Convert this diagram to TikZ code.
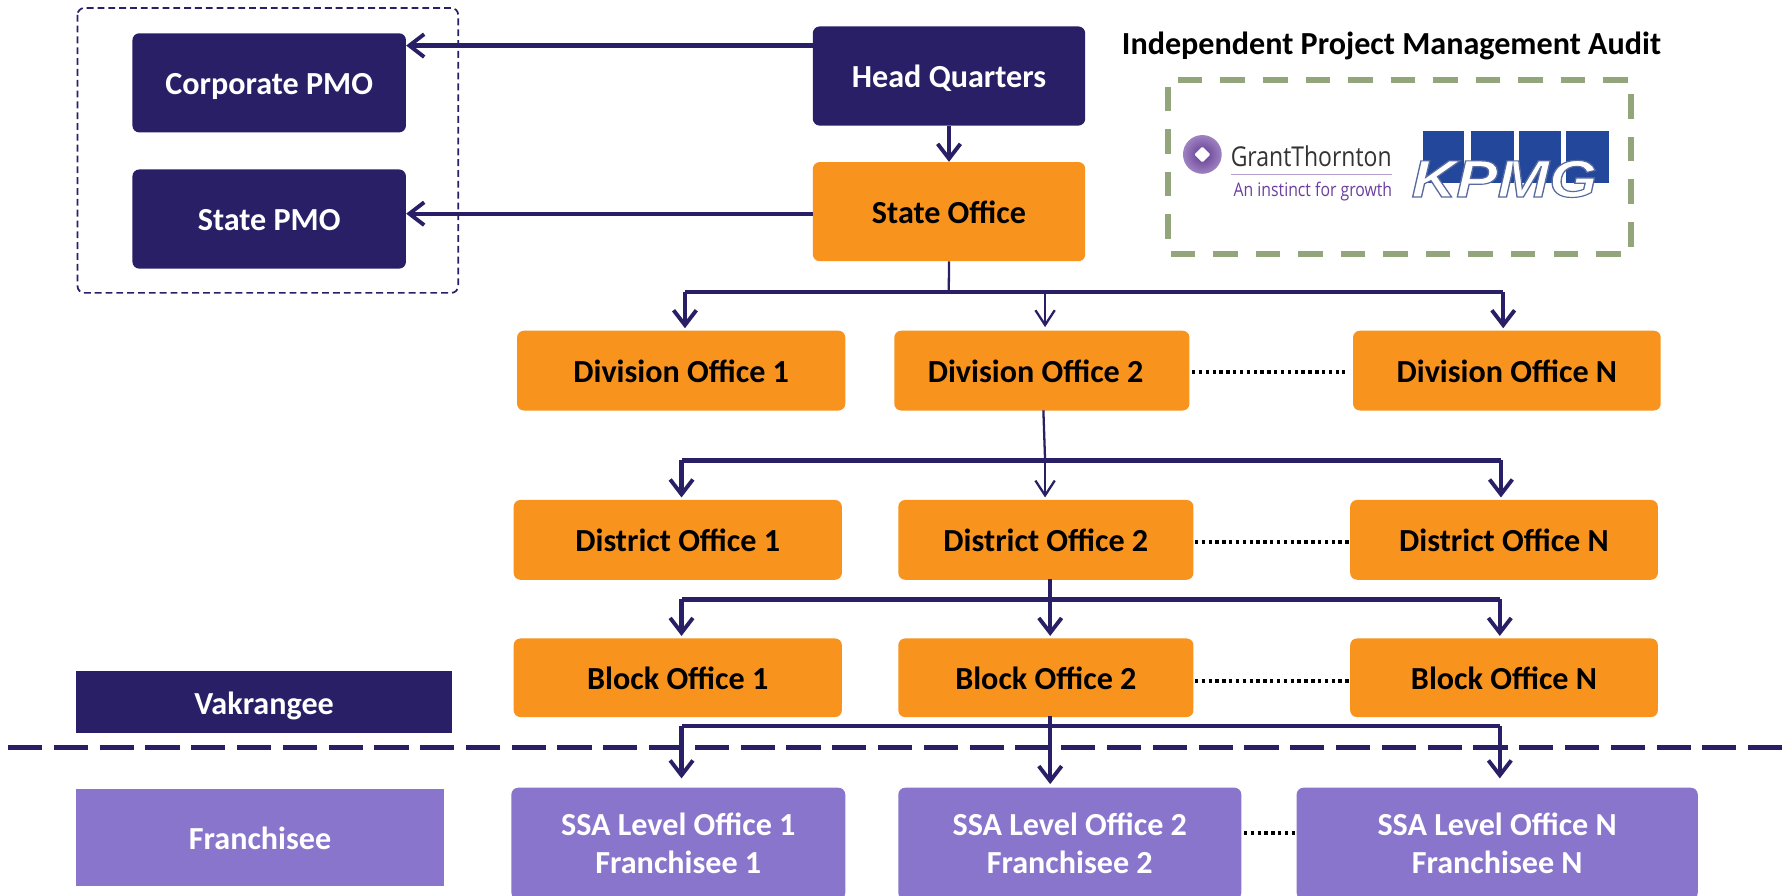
\documentclass[tikz,border=0pt]{standalone}
\usepackage{fontspec}
\setmainfont{Carlito}
\newfontfamily\gtfont{Open Sans}
\newfontfamily\kpfont{Liberation Sans}
\usetikzlibrary{arrows.meta,calc}
\definecolor{navy}{HTML}{291F66}
\definecolor{orangebox}{HTML}{F8931E}
\definecolor{lilac}{HTML}{8976CC}
\definecolor{sage}{HTML}{92A57B}
\definecolor{kpmgblue}{HTML}{22479B}
\definecolor{gtpurple}{HTML}{6B3FA0}
\tikzset{
  x=1pt,y=-1pt,
  basebox/.style={anchor=north west,inner sep=0pt,rounded corners=6pt,align=center,
    font=\fontsize{28.2}{33.5}\selectfont\bfseries,text height=22pt,text depth=2pt},
  navybox/.style={basebox,fill=navy,text=white},
  orbox/.style={basebox,fill=orangebox,text=black},
  lilacbox/.style={basebox,fill=lilac,text=white},
  legendnavy/.style={navybox,rounded corners=0pt,text height=24pt},
  legendlilac/.style={lilacbox,rounded corners=0pt,text height=24pt},
  thickline/.style={draw=navy,line width=3.8pt},
  thinline/.style={draw=navy,line width=2pt},
  arrowthick/.style={thickline,-{Straight Barb[length=13pt,width=20pt,line width=3.4pt]},shorten >=0pt},
  arrowthin/.style={thinline,-{Straight Barb[length=13pt,width=17pt,line width=2pt]},shorten >=1pt},
  dots/.style={draw=black,line width=3.5pt,dash pattern=on 3pt off 3pt},
}
\begin{document}
\begin{tikzpicture}
\useasboundingbox (0,0) rectangle (1568,786);
\fill[white] (0,0) rectangle (1568,786);
\begin{scope}
\clip (0,0) rectangle (1568,786);

% dashed group
\draw[navy,line width=1.5pt,dash pattern=on 6pt off 3.5pt,rounded corners=6pt] (68,7) rectangle (402,257);

% boxes
\node[navybox,minimum width=240pt,minimum height=87pt] (corp) at (116,29) {Corporate PMO};
\node[navybox,minimum width=240pt,minimum height=87pt] (spmo) at (116,148.5) {State PMO};
\node[navybox,minimum width=239pt,minimum height=87pt] (hq) at (713,23) {Head Quarters};
\node[orbox,minimum width=239pt,minimum height=87pt] (state) at (713,142) {State Office};

\node[orbox,minimum width=288pt,minimum height=70pt] (div1) at (453.5,290) {Division Office 1};
\node[orbox,minimum width=259pt,minimum height=70pt] (div2) at (784.5,290) {\hspace*{-11pt}Division Office 2};
\node[orbox,minimum width=270pt,minimum height=70pt] (divn) at (1187,290) {Division Office N};

\node[orbox,minimum width=288pt,minimum height=70pt] (dis1) at (450.5,438.5) {District Office 1};
\node[orbox,minimum width=259pt,minimum height=70pt] (dis2) at (788,438.5) {District Office 2};
\node[orbox,minimum width=270pt,minimum height=70pt] (disn) at (1184.5,438.5) {District Office N};

\node[orbox,minimum width=288pt,minimum height=69pt] (blk1) at (450.5,560) {Block Office 1};
\node[orbox,minimum width=259pt,minimum height=69pt] (blk2) at (788,560) {Block Office 2};
\node[orbox,minimum width=270pt,minimum height=69pt] (blkn) at (1184.5,560) {Block Office N};

\node[legendnavy,minimum width=330pt,minimum height=54pt] (vak) at (66.5,589) {Vakrangee};
\node[legendlilac,minimum width=323pt,minimum height=85pt] (fra) at (66.5,692) {Franchisee};

\node[lilacbox,minimum width=293pt,minimum height=98pt,text height=,text depth=] (ssa1) at (448.5,691) {SSA Level Office 1\\Franchisee 1};
\node[lilacbox,minimum width=301pt,minimum height=98pt,text height=,text depth=] (ssa2) at (788,691) {SSA Level Office 2\\Franchisee 2};
\node[lilacbox,minimum width=352pt,minimum height=98pt,text height=,text depth=] (ssan) at (1137.5,691) {SSA Level Office N\\Franchisee N};

% separator
\coordinate (sepL) at (7,656);
\coordinate (sepR) at (1564,656);
\draw[navy,line width=3.8pt,dash pattern=on 30pt off 10.18pt] (sepL) -- (sepR);

% PMO arrows
\coordinate (hqw) at (713,40);
\coordinate (stw) at (713,187.5);
\draw[arrowthick] (hqw) -- (hqw -| corp.east);
\draw[arrowthick] (stw) -- (stw -| spmo.east);
\draw[arrowthick] (hq.south) -- (state.north);

% state -> divisions
\coordinate (b1) at (832.5,256);
\coordinate (b1l) at (601,256);
\coordinate (b1m) at (917,256);
\coordinate (b1r) at (1319,256);
\draw[thinline] (state.south) -- (b1);
\draw[thickline] (b1l) -- (b1r);
\draw[arrowthick,shorten >=2pt] (b1l) -- (b1l |- div1.north);
\draw[arrowthin,shorten >=3pt] (b1m) -- (b1m |- div2.north);
\draw[arrowthick,shorten >=2pt] (b1r) -- (b1r |- divn.north);

% division -> districts
\coordinate (d2s) at (915.5,360);
\coordinate (b2l) at (598,404);
\coordinate (b2m) at (917,404);
\coordinate (b2r) at (1317,404);
\draw[thickline] (b2l) -- (b2r);
\draw[thinline] (d2s) -- (b2m);
\draw[arrowthick,shorten >=2pt] (b2l) -- (b2l |- dis1.north);
\draw[arrowthin,shorten >=2pt] (b2m) -- (b2m |- dis2.north);
\draw[arrowthick,shorten >=2pt] (b2r) -- (b2r |- disn.north);

% district -> blocks
\coordinate (d3s) at (921.5,508);
\coordinate (b3l) at (598,526);
\coordinate (b3r) at (1316,526);
\draw[thickline] (b3l) -- (b3r);
\draw[arrowthick,shorten >=2pt] (b3l) -- (b3l |- blk1.north);
\draw[arrowthick,shorten >=2pt] (d3s) -- (d3s |- blk2.north);
\draw[arrowthick,shorten >=2pt] (b3r) -- (b3r |- blkn.north);

% block -> SSA
\coordinate (d4s) at (921.5,628);
\coordinate (b4l) at (598,637);
\coordinate (b4r) at (1316,637);
\draw[thickline] (b4l) -- (b4r);
\draw[arrowthick,shorten >=8pt] (b4l) -- (b4l |- ssa1.north);
\draw[arrowthick,shorten >=3pt] (d4s) -- (d4s |- ssa2.north);
\draw[arrowthick,shorten >=8pt] (b4r) -- (b4r |- ssan.north);

% dotted links
\draw[dots] ($(div2.east)+(2,1)$) -- ($(divn.west)+(-7,1)$);
\draw[dots] ($(dis2.east)+(1,2)$) -- ($(disn.west)+(-1,2)$);
\draw[dots] ($(blk2.east)+(1,2.5)$) -- ($(blkn.west)+(-1,2.5)$);
\draw[dots] ($(ssa2.east)+(2,-9.5)$) -- ($(ssan.west)+(0,-9.5)$);

% audit
\node[font=\fontsize{28.2}{32}\selectfont\bfseries,text=black] (audit) at (1221,40) {Independent Project Management Audit};
\draw[sage,line width=4.8pt,dash pattern=on 21.5pt off 15.8pt] (1033.6,70) -- (1431,70) -- (1431,223) -- (1025,223) -- (1025,70) -- cycle;

% Grant Thornton logo
\shade[inner color=gtpurple!90!black,outer color=gtpurple!65] (1055,135.5) circle (17);
\fill[white,rounded corners=1pt] (1055,128.5) -- (1062,135.5) -- (1055,142.5) -- (1048,135.5) -- cycle;
\node[font=\gtfont\fontsize{24}{25}\selectfont,text=black!80,inner sep=0pt] (gt) at (1150.5,137) {\scalebox{0.84}[1]{GrantThornton}};
\draw[gtpurple!50,line width=0.9pt] (1080,153) -- (1221,153);
\node[font=\gtfont\fontsize{16.5}{18}\selectfont,text=gtpurple,inner sep=0pt] (gi) at (1152,168) {\scalebox{0.84}[1]{An instinct for growth}};

% KPMG logo
\fill[kpmgblue] (1249,115) rectangle (1285,161);
\fill[kpmgblue] (1291,115) rectangle (1328,161);
\fill[kpmgblue] (1333,115) rectangle (1370,161);
\fill[kpmgblue] (1374,115) rectangle (1412,161);
\node[font=\kpfont\fontsize{46}{46}\selectfont\bfseries\itshape,text=white,inner sep=0pt] (kpmg) at (1320,157) {\scalebox{1.18}[1]{\special{pdf:code 2 Tr 1 w 0.35 0.42 0.62 RG}KPMG\special{pdf:code 0 Tr}}};
\end{scope}
\end{tikzpicture}
\end{document}
